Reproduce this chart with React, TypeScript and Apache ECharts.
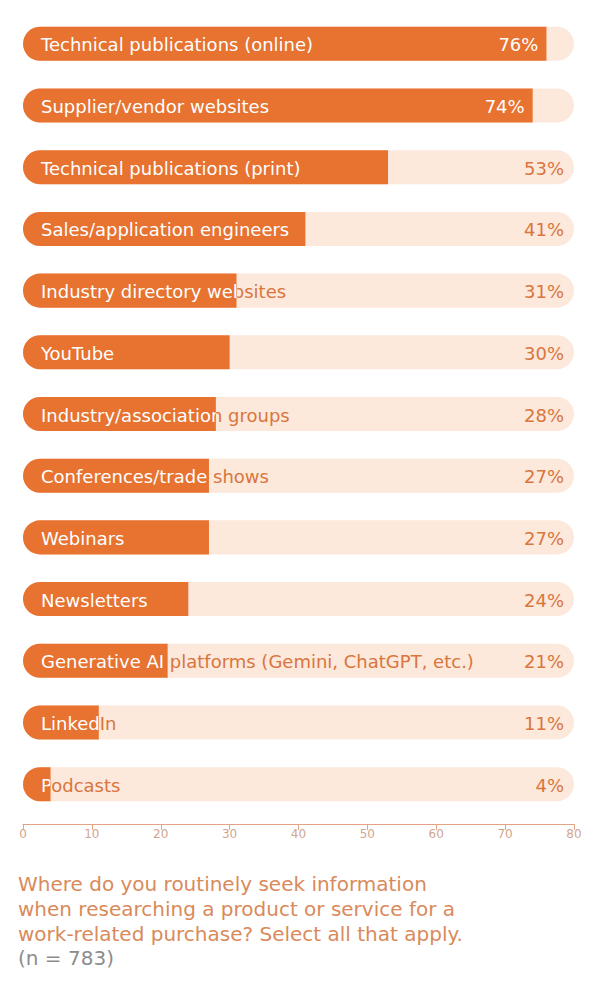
import React, { useEffect, useRef } from 'react';
import * as echarts from 'echarts';

const categories = [
  'Technical publications (online)',
  'Supplier/vendor websites',
  'Technical publications (print)',
  'Sales/application engineers',
  'Industry directory websites',
  'YouTube',
  'Industry/association groups',
  'Conferences/trade shows',
  'Webinars',
  'Newsletters',
  'Generative AI platforms (Gemini, ChatGPT, etc.)',
  'LinkedIn',
  'Podcasts',
];
const values = [76, 74, 53, 41, 31, 30, 28, 27, 27, 24, 21, 11, 4];
const axisMin = 0;
const axisMax = 80;
const axisInterval = 10;
const questionLines = [
  'Where do you routinely seek information',
  'when researching a product or service for a',
  'work-related purchase? Select all that apply.',
];
const sampleNote = '(n = 783)';

const FONT = '"DejaVu Sans", sans-serif';
const ORANGE = '#E8722F';
const BG = '#FDE8DC';
const TEXT_ORANGE = '#D8763D';

export default function App() {
  const ref = useRef<HTMLDivElement>(null);
  useEffect(() => {
    document.body.style.margin = '0';
    if (!ref.current) return;
    const chart = echarts.init(ref.current, undefined, { renderer: 'svg' });
    const data = values.map((v, i) => [i, v]);
    const option: any = {
      animation: false,
      grid: { left: 23, right: 26, top: 13, height: 802, containLabel: false },
      xAxis: {
        type: 'value',
        min: axisMin,
        max: axisMax,
        interval: axisInterval,
        offset: 9,
        axisLine: { show: true, lineStyle: { color: '#E3A384', width: 1 } },
        axisTick: { show: true, length: 6, lineStyle: { color: '#E3A384' } },
        splitLine: { show: false },
        axisLabel: { color: '#CFA690', fontSize: 12, fontFamily: FONT, margin: 4 },
      },
      yAxis: {
        type: 'category',
        data: categories,
        inverse: true,
        show: false,
      },
      series: [
        {
          type: 'custom',
          data,
          clip: false,
          renderItem: (params: any, api: any) => {
            const idx = api.value(0);
            const v = api.value(1);
            const start = api.coord([axisMin, idx]);
            const end = api.coord([v, idx]);
            const full = api.coord([axisMax, idx]);
            const h = api.size([0, 1])[1] * 0.552;
            const y = start[1] - h / 2;
            const barW = end[0] - start[0];
            const fullW = full[0] - start[0];
            const label = categories[idx];
            const inside = v / axisMax > 0.85;
            const textStyle = {
              text: label,
              x: start[0] + 18,
              y: start[1] + 1,
              verticalAlign: 'middle',
              align: 'left',
              fontSize: 18,
              fontFamily: FONT,
            };
            return {
              type: 'group',
              children: [
                {
                  type: 'rect',
                  shape: { x: start[0], y, width: fullW, height: h, r: h / 2 },
                  style: { fill: BG },
                },
                {
                  type: 'rect',
                  shape: { x: start[0], y, width: barW, height: h, r: [h / 2, 0, 0, h / 2] },
                  style: { fill: ORANGE },
                },
                {
                  type: 'text',
                  style: { ...textStyle, fill: TEXT_ORANGE },
                },
                {
                  type: 'text',
                  style: { ...textStyle, fill: '#FFFFFF' },
                  clipPath: {
                    type: 'rect',
                    shape: { x: start[0], y, width: barW, height: h },
                  },
                },
                {
                  type: 'text',
                  style: {
                    text: v + '%',
                    x: inside ? end[0] - 8 : full[0] - 10,
                    y: start[1] + 1,
                    align: 'right',
                    verticalAlign: 'middle',
                    fontSize: 18,
                    fontFamily: FONT,
                    fill: inside ? '#FFFFFF' : TEXT_ORANGE,
                  },
                },
              ],
            };
          },
        },
      ],
      graphic: [
        {
          type: 'text',
          left: 18,
          top: 872,
          style: {
            text: questionLines.join('\n'),
            fontSize: 20,
            lineHeight: 24.7,
            fontFamily: FONT,
            fill: '#D98A5B',
          },
        },
        {
          type: 'text',
          left: 18,
          top: 946,
          style: {
            text: sampleNote,
            fontSize: 20,
            lineHeight: 24.7,
            fontFamily: FONT,
            fill: '#8C8C8C',
          },
        },
      ],
    };
    chart.setOption(option);
    return () => chart.dispose();
  }, []);
  return <div ref={ref} style={{ width: 600, height: 1000 }} />;
}
